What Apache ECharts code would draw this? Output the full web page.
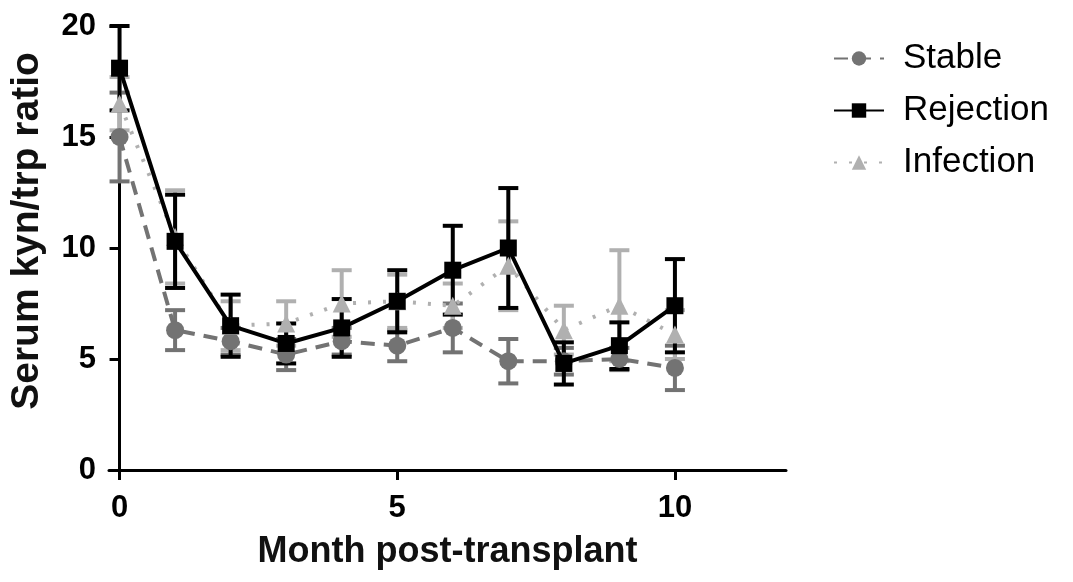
<!DOCTYPE html>
<html>
<head>
<meta charset="utf-8">
<script src="https://cdn.jsdelivr.net/npm/echarts@6/dist/echarts.min.js"></script>
<style>
  html, body { margin: 0; padding: 0; background: #fff; }
  #chart { width: 1073px; height: 582px; }
</style>
</head>
<body>
<div id="chart"></div>
<script>
const months = [0, 1, 2, 3, 4, 5, 6, 7, 8, 9, 10];
const xTicks = [0, 5, 10];

const stableMean = [15.0, 6.3, 5.8, 5.2, 5.8, 5.6, 6.4, 4.9, 4.9, 5.0, 4.6];
const stableErr = [2.0, 0.9, 0.6, 0.7, 0.6, 0.7, 1.1, 1.0, 0.6, 0.5, 1.0];

const rejectionMean = [18.1, 10.3, 6.5, 5.7, 6.4, 7.6, 9.0, 10.0, 4.8, 5.6, 7.4];
const rejectionErr = [1.9, 2.1, 1.4, 0.9, 1.3, 1.4, 2.0, 2.7, 0.95, 1.05, 2.1];

const infectionMean = [16.5, 10.5, 6.5, 6.6, 7.5, 7.6, 7.4, 9.2, 6.3, 7.4, 6.1];
const infectionErr = [1.2, 2.1, 1.1, 1.0, 1.5, 1.2, 1.0, 2.0, 1.1, 2.5, 1.1];

const GREY = "#737373";
const LIGHT = "#b0b0b0";
const BLACK = "#000";

const chart = echarts.init(document.getElementById("chart"));

function pairs(mean) {
  return months.map((m, i) => [m, mean[i]]);
}

// mean ± error as vertical bar with caps
function errorSeries(name, mean, err, color, z) {
  return {
    type: "custom",
    name: name + " err",
    z: z,
    silent: true,
    data: months.map((m, i) => [m, mean[i] - err[i], mean[i] + err[i]]),
    renderItem: (params, api) => {
      const x = api.value(0);
      const lo = api.coord([x, api.value(1)]);
      const hi = api.coord([x, api.value(2)]);
      const half = 10;
      const style = { stroke: color, lineWidth: 4 };
      return {
        type: "group",
        children: [
          { type: "line", shape: { x1: lo[0], y1: lo[1], x2: hi[0], y2: hi[1] }, style },
          { type: "line", shape: { x1: lo[0] - half, y1: lo[1], x2: lo[0] + half, y2: lo[1] }, style },
          { type: "line", shape: { x1: hi[0] - half, y1: hi[1], x2: hi[0] + half, y2: hi[1] }, style },
        ],
      };
    },
  };
}

const option = {
  animation: false,
  textStyle: { fontFamily: "Liberation Sans, Arial, sans-serif" },
  grid: { left: 107, right: 287, top: 26, bottom: 112, containLabel: false },
  legend: {
    orient: "vertical",
    left: 828,
    top: 36,
    itemWidth: 50,
    itemHeight: 18,
    itemGap: 17,
    textStyle: { fontSize: 35, color: "#000", padding: [0, 0, 0, 14] },
    data: ["Stable", "Rejection", "Infection"],
  },
  xAxis: {
    type: "value",
    min: -0.19,
    max: 12,
    splitLine: { show: false },
    axisLine: { onZero: false, lineStyle: { color: "#000", width: 3 } },
    axisTick: { customValues: xTicks, length: 10, lineStyle: { color: "#000", width: 3 } },
    axisLabel: { customValues: xTicks, color: "#000", fontSize: 31, fontWeight: "bold", margin: 23 },
    name: "Month post-transplant",
    nameLocation: "middle",
    nameGap: 64,
    nameMoveOverlap: false,
    nameTextStyle: { color: "#111", fontSize: 36, fontWeight: "bold" },
  },
  yAxis: {
    type: "value",
    min: 0,
    max: 20,
    interval: 5,
    splitLine: { show: false },
    axisLine: { onZero: true, lineStyle: { color: "#000", width: 3 } },
    axisTick: { length: 10, lineStyle: { color: "#000", width: 3 } },
    axisLabel: { color: "#000", fontSize: 31, fontWeight: "bold", margin: 13 },
    name: "Serum kyn/trp ratio",
    nameLocation: "middle",
    nameGap: 62,
    nameMoveOverlap: false,
    nameTextStyle: { color: "#111", fontSize: 39, fontWeight: "bold", padding: [0, 0, 0, 34] },
  },
  series: [
    errorSeries("Stable", stableMean, stableErr, GREY, 1),
    errorSeries("Infection", infectionMean, infectionErr, LIGHT, 2),
    errorSeries("Rejection", rejectionMean, rejectionErr, BLACK, 3),
    {
      name: "Stable",
      type: "line",
      z: 4,
      data: pairs(stableMean),
      symbol: "circle",
      symbolSize: 18,
      itemStyle: { color: GREY },
      lineStyle: { color: GREY, width: 4, type: [14, 9] },
    },
    {
      name: "Infection",
      type: "line",
      z: 5,
      data: pairs(infectionMean),
      symbol: "triangle",
      symbolSize: 18,
      itemStyle: { color: LIGHT },
      lineStyle: { color: LIGHT, width: 4, type: [3, 12] },
    },
    {
      name: "Rejection",
      type: "line",
      z: 6,
      data: pairs(rejectionMean),
      symbol: "rect",
      symbolSize: 17,
      itemStyle: { color: BLACK },
      lineStyle: { color: BLACK, width: 4 },
    },
  ],
};

chart.setOption(option);
</script>
</body>
</html>
